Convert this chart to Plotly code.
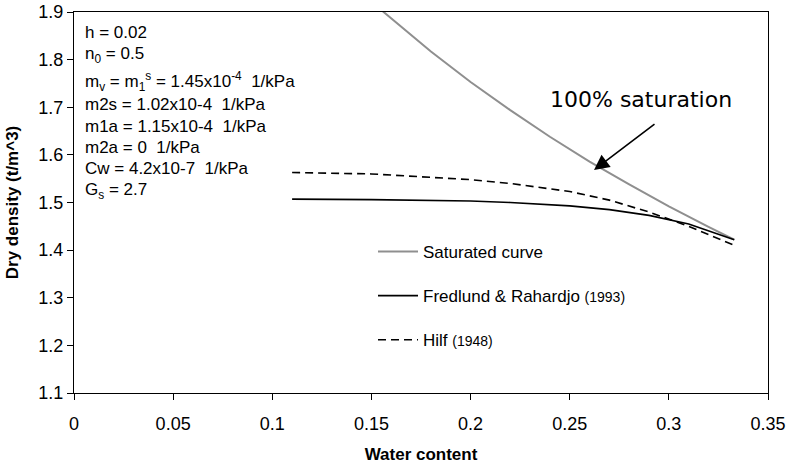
import plotly.graph_objects as go

# Data
sat_w = [0.155, 0.17, 0.18, 0.20, 0.22, 0.24, 0.26, 0.28, 0.30, 0.32, 0.333]
sat_rho = [1.904, 1.851, 1.817, 1.753, 1.694, 1.638, 1.586, 1.538, 1.492, 1.449, 1.422]

fred_w = [0.11, 0.15, 0.20, 0.22, 0.25, 0.27, 0.29, 0.31, 0.333]
fred_rho = [1.507, 1.506, 1.503, 1.500, 1.493, 1.485, 1.473, 1.455, 1.422]

hilf_w = [0.11, 0.15, 0.20, 0.22, 0.25, 0.27, 0.29, 0.31, 0.333]
hilf_rho = [1.563, 1.560, 1.548, 1.540, 1.523, 1.505, 1.480, 1.450, 1.410]

x_ticks = [0, 0.05, 0.1, 0.15, 0.2, 0.25, 0.3, 0.35]
x_labels = ["0", "0.05", "0.1", "0.15", "0.2", "0.25", "0.3", "0.35"]
y_ticks = [1.1, 1.2, 1.3, 1.4, 1.5, 1.6, 1.7, 1.8, 1.9]
y_labels = ["1.1", "1.2", "1.3", "1.4", "1.5", "1.6", "1.7", "1.8", "1.9"]

param_lines = [
    "h = 0.02",
    "n<sub>0</sub> = 0.5",
    "m<sub>v</sub> = m<sub>1</sub><sup>s</sup> = 1.45x10<sup>-4</sup>  1/kPa",
    "m2s = 1.02x10-4  1/kPa",
    "m1a = 1.15x10-4  1/kPa",
    "m2a = 0  1/kPa",
    "Cw = 4.2x10-7  1/kPa",
    "G<sub>s</sub> = 2.7",
]

FONT = "Liberation Sans, Arial, sans-serif"

FIG_W, FIG_H = 787, 465
# plot area in pixels
L, R, T, B = 74, 768, 12, 393
W, H = R - L, B - T

def px(x):
    return (x - L) / W

def py(y):
    return (B - y) / H

fig = go.Figure()
fig.add_trace(go.Scatter(
    x=sat_w, y=sat_rho, mode="lines", name="Saturated curve",
    line=dict(color="#8f8f8f", width=2), legendgroup="a"))
fig.add_trace(go.Scatter(
    x=fred_w, y=fred_rho, mode="lines",
    name="Fredlund & Rahardjo <span style='font-size:14px'>(1993)</span>",
    line=dict(color="black", width=1.6), legendgroup="b"))
fig.add_trace(go.Scatter(
    x=hilf_w, y=hilf_rho, mode="lines",
    name="Hilf <span style='font-size:14px'>(1948)</span>",
    line=dict(color="black", width=1.6, dash="8px,5px"), legendgroup="c"))

annotations = []
line_y = [32, 55, 81, 104, 126, 147, 168, 191]
for txt, yy in zip(param_lines, line_y):
    annotations.append(dict(
        text=txt, xref="paper", yref="paper",
        x=px(83), y=py(yy),
        xanchor="left", yanchor="middle", showarrow=False,
        font=dict(family=FONT, size=17, color="black")))

annotations.append(dict(
    text="100% saturation", xref="paper", yref="paper",
    x=px(641), y=py(99),
    xanchor="center", yanchor="middle", showarrow=False,
    font=dict(family="DejaVu Sans, Verdana, sans-serif", size=22, color="black")))

annotations.append(dict(
    text="", xref="paper", yref="paper",
    x=px(594), y=py(170),
    axref="pixel", ayref="pixel", ax=62, ay=-47,
    showarrow=True, arrowhead=2, arrowsize=1.9, arrowwidth=1.6,
    arrowcolor="black"))

fig.update_layout(
    width=FIG_W, height=FIG_H,
    margin=dict(l=L, r=FIG_W - R, t=T, b=FIG_H - B),
    paper_bgcolor="white", plot_bgcolor="white",
    font=dict(family=FONT, size=17, color="black"),
    showlegend=True,
    legend=dict(
        x=px(373), y=py(234),
        xanchor="left", yanchor="top",
        bgcolor="rgba(0,0,0,0)", borderwidth=0,
        font=dict(family=FONT, size=17, color="black"),
        tracegroupgap=19, itemwidth=40),
    annotations=annotations,
    xaxis=dict(
        range=[0, 0.35], tickvals=x_ticks, ticktext=x_labels,
        showgrid=False, zeroline=False, automargin=False,
        showline=True, linecolor="black", linewidth=1.2, mirror=True,
        ticks="outside", ticklen=6, tickcolor="black",
        ticklabeloverflow="allow", ticklabelstandoff=8,
        tickfont=dict(family=FONT, size=18),
        title=dict(text="<b>Water content</b>", font=dict(family=FONT, size=17))),
    yaxis=dict(
        range=[1.1, 1.9], tickvals=y_ticks, ticktext=y_labels,
        showgrid=False, zeroline=False, automargin=False,
        showline=True, linecolor="black", linewidth=1.2, mirror=True,
        ticks="outside", ticklen=6, tickcolor="black",
        ticklabeloverflow="allow",
        tickfont=dict(family=FONT, size=18),
        title=dict(text="<b>Dry density (t/m^3)</b>", font=dict(family=FONT, size=17))),
)

fig.write_html("out.html",
               config={"displayModeBar": False},
               post_script="document.body.style.margin='0';document.body.style.overflow='hidden';")
